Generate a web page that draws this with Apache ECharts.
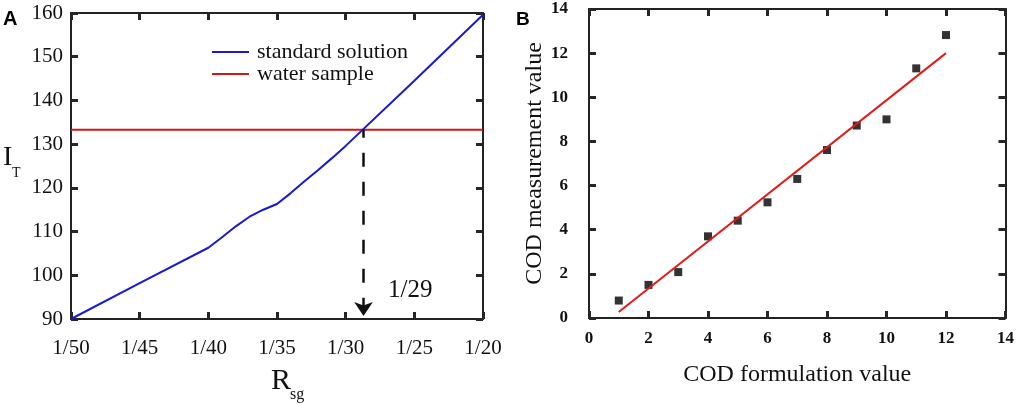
<!DOCTYPE html>
<html>
<head>
<meta charset="utf-8">
<script src="https://cdn.jsdelivr.net/npm/echarts@6/dist/echarts.min.js"></script>
<style>html,body{margin:0;padding:0;background:#fff;}#c{width:1017px;height:405px;}</style>
</head>
<body>
<div id="c"></div>
<script>
// Panel A data (x = denominator of R_sg, i.e. 1/x)
const stdR = [50, 45, 40, 39, 38, 37, 36, 35, 34, 33, 32, 31, 30, 25, 20];
const stdI = [90, 98.2, 106.3, 108.7, 111.2, 113.4, 115.0, 116.3, 118.8, 121.5, 124.1, 126.8, 129.6, 144.5, 159.6];
const waterR = [20, 50];
const waterI = [133.3, 133.3];
const crossR = 28.7;
const crossLabel = '1/29';
// Panel B data
const codForm = [1, 2, 3, 4, 5, 6, 7, 8, 9, 10, 11, 12];
const codMeas = [0.79, 1.5, 2.08, 3.70, 4.41, 5.24, 6.30, 7.61, 8.72, 9.0, 11.31, 12.82];
const fitX = [1, 12];
const fitY = [0.27, 12.0];

const serif = 'Liberation Serif';
const axisColor = '#222';
const zip = (a, b) => a.map((v, i) => [v, b[i]]);

function baseAxis(extra) {
  return Object.assign({
    axisLine: {show: true, onZero: false, lineStyle: {color: axisColor, width: 2}},
    axisTick: {show: false},
    splitLine: {show: false},
  }, extra);
}
// tick-only axis (no labels) drawn on a given side of a grid
function tickAxis(extra) {
  return Object.assign({
    type: 'value',
    axisLine: {show: true, onZero: false, lineStyle: {color: axisColor, width: 2}},
    axisTick: {show: true, inside: true, length: 7, lineStyle: {color: '#262626', width: 3}},
    axisLabel: {show: false},
    splitLine: {show: false},
  }, extra);
}

const chart = echarts.init(document.getElementById('c'), null, {renderer: 'canvas'});
chart.setOption({
  animation: false,
  backgroundColor: '#fff',
  grid: [
    {left: 71, top: 13, width: 412, height: 306},
    {left: 589, top: 9, width: 420, height: 309}
  ],
  xAxis: [
    baseAxis({gridIndex: 0, type: 'value', min: 20, max: 50, interval: 5, inverse: true, position: 'bottom',
      axisLabel: {formatter: v => '1/' + v, fontFamily: serif, fontSize: 21, color: '#111', margin: 19}}),
    tickAxis({gridIndex: 0, min: 20, max: 50, interval: 5, inverse: true, position: 'bottom'}),
    tickAxis({gridIndex: 0, min: 20, max: 50, interval: 5, inverse: true, position: 'top'}),
    baseAxis({gridIndex: 1, type: 'value', min: 0, max: 14, interval: 2, position: 'bottom',
      name: 'COD formulation value', nameLocation: 'middle', nameGap: 45,
      nameTextStyle: {fontFamily: serif, fontSize: 24, color: '#111'},
      axisLabel: {fontFamily: serif, fontSize: 17, fontWeight: 'bold', color: '#111', margin: 12}}),
    tickAxis({gridIndex: 1, min: 0, max: 14, interval: 2, position: 'bottom'}),
    tickAxis({gridIndex: 1, min: 0, max: 14, interval: 2, position: 'top'})
  ],
  yAxis: [
    baseAxis({gridIndex: 0, type: 'value', min: 90, max: 160, interval: 10, position: 'left',
      axisLabel: {fontFamily: serif, fontSize: 21, color: '#111', margin: 8}}),
    tickAxis({gridIndex: 0, min: 90, max: 160, interval: 10, position: 'left'}),
    tickAxis({gridIndex: 0, min: 90, max: 160, interval: 10, position: 'right'}),
    baseAxis({gridIndex: 1, type: 'value', min: 0, max: 14, interval: 2, position: 'left',
      name: 'COD measurement value', nameLocation: 'middle', nameGap: 40, nameRotate: 90,
      nameTextStyle: {fontFamily: serif, fontSize: 24, color: '#111'},
      axisLabel: {fontFamily: serif, fontSize: 17, fontWeight: 'bold', color: '#111', margin: 21}}),
    tickAxis({gridIndex: 1, min: 0, max: 14, interval: 2, position: 'left'}),
    tickAxis({gridIndex: 1, min: 0, max: 14, interval: 2, position: 'right'})
  ],
  legend: {
    data: [{name: 'standard solution', icon: 'rect'}, {name: 'water sample', icon: 'rect'}],
    orient: 'vertical', left: 207, top: 36, itemWidth: 37, itemHeight: 2, itemGap: 0,
    textStyle: {fontFamily: serif, fontSize: 22, color: '#111', lineHeight: 22, padding: [0, 0, 0, 3]},
    selectedMode: false
  },
  series: [
    {name: 'standard solution', type: 'line', xAxisIndex: 0, yAxisIndex: 0, data: zip(stdR, stdI),
      symbol: 'none', lineStyle: {color: '#1a1acc', width: 2}, itemStyle: {color: '#1a1acc'}, z: 3},
    {name: 'water sample', type: 'line', xAxisIndex: 0, yAxisIndex: 0, data: zip(waterR, waterI),
      symbol: 'none', lineStyle: {color: '#d41515', width: 2}, itemStyle: {color: '#d41515'}, z: 2},
    {name: 'guide', type: 'line', xAxisIndex: 0, yAxisIndex: 0, data: [[crossR, waterI[0]]],
      showSymbol: false, symbol: 'none', lineStyle: {width: 0},
      markLine: {
        silent: true, symbol: ['none', 'arrow'], symbolSize: 14,
        label: {show: false},
        lineStyle: {color: '#111', width: 2.5, type: [14, 15], dashOffset: 6},
        itemStyle: {color: '#111'},
        data: [[{coord: [crossR, waterI[0]]}, {coord: [crossR, 90.7]}]]
      },
      markPoint: {
        silent: true, symbol: 'circle', symbolSize: 0,
        label: {show: true, position: 'inside', formatter: crossLabel, fontFamily: serif, fontSize: 25, color: '#111'},
        data: [{coord: [25.3, 96.6]}]
      }
    },
    {name: 'measured', type: 'scatter', xAxisIndex: 3, yAxisIndex: 3, data: zip(codForm, codMeas),
      symbol: 'rect', symbolSize: 8, itemStyle: {color: '#000'}},
    {name: 'fit', type: 'line', xAxisIndex: 3, yAxisIndex: 3, data: zip(fitX, fitY),
      symbol: 'none', lineStyle: {color: '#dd1c1c', width: 2}}
  ],
  graphic: [
    {type: 'text', left: 3, top: 9, style: {text: 'A', font: 'bold 20px "Liberation Sans"', fill: '#000'}},
    {type: 'text', left: 516, top: 10, style: {text: 'B', font: 'bold 19px "Liberation Sans"', fill: '#000'}},
    {type: 'text', x: 3, y: 158, style: {text: 'I', font: '28px "Liberation Serif"', fill: '#111', textVerticalAlign: 'middle'}},
    {type: 'text', x: 12, y: 173, style: {text: 'T', font: '14px "Liberation Serif"', fill: '#111', textVerticalAlign: 'middle'}},
    {type: 'text', x: 271, y: 381, style: {text: 'R', font: '30px "Liberation Serif"', fill: '#111', textVerticalAlign: 'middle'}},
    {type: 'text', x: 290, y: 395, style: {text: 'sg', font: '16px "Liberation Serif"', fill: '#111', textVerticalAlign: 'middle'}}
  ]
});
</script>
</body>
</html>
